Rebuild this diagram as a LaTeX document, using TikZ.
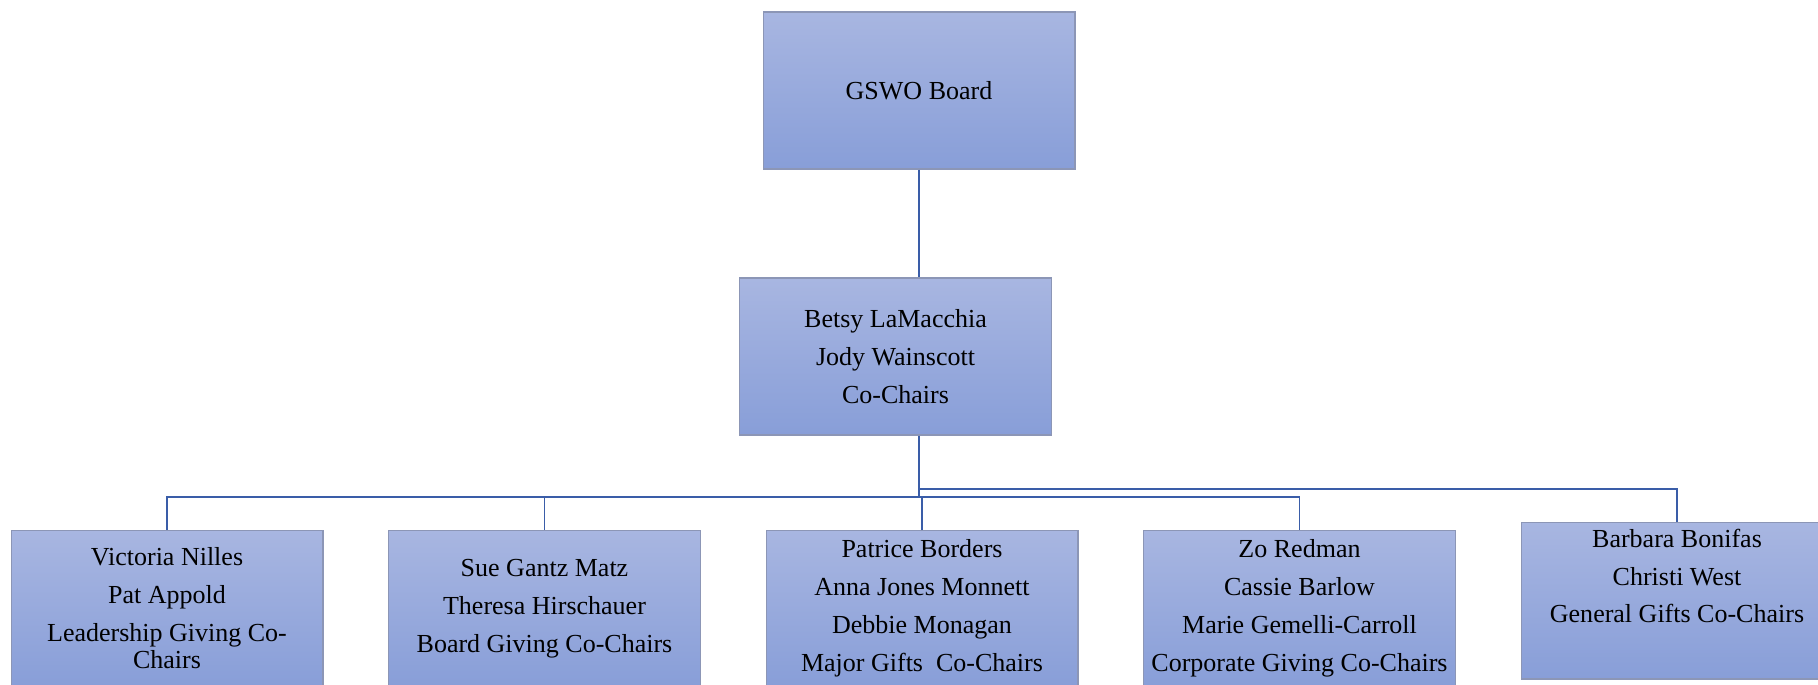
\documentclass[tikz,border=0pt]{standalone}
\usepackage{fontspec}
\setmainfont{Liberation Serif}
\usepackage{tikz}
\usetikzlibrary{positioning,calc}
\definecolor{boxtop}{HTML}{A8B6E1}
\definecolor{boxbot}{HTML}{889ED8}
\definecolor{boxedge}{HTML}{8C96B6}
\definecolor{linkblue}{HTML}{3A5DA8}
\tikzset{
  box/.style={rectangle, draw=boxedge, line width=.6pt, top color=boxtop, bottom color=boxbot,
    minimum width=6.24cm, minimum height=3.14cm, inner sep=2pt, align=center,
    font=\fontsize{14.8}{21.6}\selectfont},
  link/.style={draw=linkblue, line width=1.1pt}
}
\begin{document}
\begin{tikzpicture}[x=.02cm,y=-.02cm]
%\draw[step=50,color=gray] (0,0) grid (1818,684);
%page frame
\useasboundingbox (0,0) rectangle (1818,684);
\clip (0,0) rectangle (1818,684);
%top of chart
\node[box] (board) at (919,90.5) {GSWO Board};
\node[box] (chairs) at (895.5,356.5) {Betsy LaMacchia\\Jody Wainscott\\Co-Chairs};
%committee boxes
\node[box] (lead) at (167,608.5) {Victoria Nilles\\Pat Appold\\Leadership Giving Co-\\[-6.2pt]Chairs};
\node[box] (boardgiv) at (544.5,608.5) {Sue Gantz Matz\\Theresa Hirschauer\\Board Giving Co-Chairs};
\node[box] (major) at (922,608.5) {Patrice Borders\\Anna Jones Monnett\\Debbie Monagan\\Major Gifts~ Co-Chairs};
\node[box] (corp) at (1299.5,608.5) {Zo Redman\\Cassie Barlow\\Marie Gemelli-Carroll\\Corporate Giving Co-Chairs};
\node[box] (general) at (1677,600.5) {Barbara Bonifas\\Christi West\\General Gifts Co-Chairs\\\strut};
%bus lines
\coordinate (busL) at (919,497);
\coordinate (busU) at (919,489);
\draw[link] (board.south) -- (board.south |- chairs.north);
\draw[link] (chairs.south -| busL) -- (busL);
\foreach \n in {lead,boardgiv,major,corp}
  \draw[link] (\n.north) |- (busL);
\draw[link] (general.north) |- (busU);
\end{tikzpicture}
\end{document}
